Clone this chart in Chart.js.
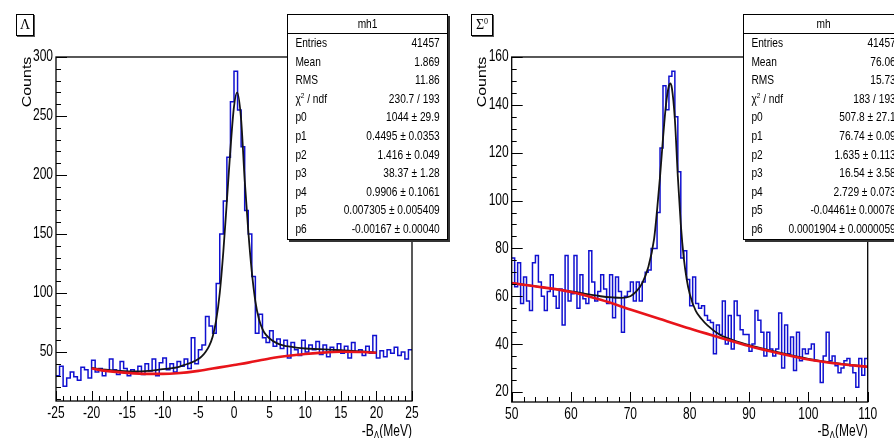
<!DOCTYPE html>
<html>
<head>
<meta charset="utf-8">
<script src="https://cdn.jsdelivr.net/npm/chart.js@4.4.1/dist/chart.umd.min.js"></script>
<style>
  html, body { margin: 0; padding: 0; background: #fff; }
  body { width: 894px; height: 438px; overflow: hidden; position: relative;
         font-family: "Liberation Sans", Arial, sans-serif; }
  .panel { position: absolute; top: 0; width: 447px; height: 438px; }
  .stats { position: absolute; top: 14px; width: 161px; height: 226px; box-sizing: border-box;
           border: 1px solid #000; background: #fff; box-shadow: 2px 2px 0 #333; z-index: 5;
           font-size: 12.4px; color: #000; }
  /* condensed look: render wide, squeeze horizontally */
  .stats .inner { width: 194px; transform: scaleX(0.82); transform-origin: 0 0; }
  .stats .head { height: 18px; border-bottom: 1px solid #000; text-align: center; line-height: 18px; }
  .stats .row { height: 18.6px; line-height: 18.6px; display: flex; justify-content: space-between;
                padding: 0 9px; white-space: nowrap; }
  .stats sup, .tag sup { font-size: 8px; line-height: 0; vertical-align: 5px; }
  .tag { position: absolute; top: 14px; height: 22px; box-sizing: border-box; border: 1px solid #000;
         background: #fff; font-family: "Liberation Serif", "DejaVu Serif", serif; font-size: 14px;
         line-height: 20px; text-align: center; box-shadow: 1px 1px 0 #555; z-index: 5; }
</style>
</head>
<body>
<div class="panel" style="left:0"><canvas id="lambda" width="447" height="438"></canvas></div>
<div class="panel" style="left:447px"><canvas id="sigma" width="447" height="438"></canvas></div>
<div class="tag" style="left:16px;width:18px">Λ</div>
<div class="tag" style="left:471px;width:22px">Σ<sup>0</sup></div>
<div class="stats" id="statsLambda" style="left:287px"></div>
<div class="stats" id="statsSigma" style="left:743px"></div>

<script>
// ---- data ----
const lambdaLow = -25, lambdaWidth = 0.5;   // 100 bins, -25 .. 25 MeV
const lambdaCounts = [
  30, 38, 21, 28, 33, 29, 26, 37, 35, 28,
  43, 33, 36, 30, 34, 44, 35, 31, 42, 36,
  30, 35, 33, 38, 31, 40, 34, 44, 30, 41,
  45, 35, 40, 33, 42, 38, 44, 36, 62, 40,
  52, 56, 80, 72, 66, 108, 150, 178, 215, 262,
  288, 255, 224, 170, 150, 114, 66, 82, 62, 58,
  68, 55, 61, 53, 60, 45, 58, 52, 47, 60,
  50, 56, 52, 59, 48, 56, 46, 54, 50, 57,
  49, 55, 45, 58, 50, 52, 47, 55, 49, 64,
  45, 51, 46, 52, 49, 54, 47, 50, 44, 52
];
const lambdaFitX = [-20, -18, -16, -14, -12, -10, -9, -8, -7, -6,
  -5, -4.5, -4, -3.5, -3, -2.5, -2, -1.5, -1, -0.5,
  0, 0.45, 1, 1.5, 2, 2.5, 3, 3.5, 4, 4.5,
  5, 6, 7, 8, 9, 10, 12, 15, 18, 20];
const lambdaFitY = [36.5, 35, 34, 33.5, 34, 35.5, 36.2, 37, 39, 41,
  44, 46.5, 50, 55, 63, 77, 100, 135, 178, 222,
  258, 270, 247, 196, 153, 118, 93, 78, 69.5, 64.5,
  61.5, 57.5, 55.5, 54.5, 53.5, 53, 52.5, 51.5, 50.5, 49.5];
const lambdaBgX = [-20, -18, -15, -12, -10, -8, -5, -2, 0, 2, 5, 8, 10, 12, 15, 18, 20];
const lambdaBgY = [36, 34, 32.3, 31.5, 31.5, 32, 34, 37, 39, 41, 44.5, 47, 48.3, 49.3, 50.2, 50, 49.4];
const lambdaXTicks = [-25, -20, -15, -10, -5, 0, 5, 10, 15, 20, 25];
const lambdaYTicks = [50, 100, 150, 200, 250, 300];

const sigmaLow = 50, sigmaWidth = 0.5;      // 120 bins, 50 .. 110 MeV
const sigmaCounts = [
  76, 64, 74, 57, 68, 58, 54, 74, 77, 66,
  60, 54, 62, 69, 60, 55, 63, 48, 77, 58,
  61, 77, 55, 69, 59, 57, 79, 66, 58, 62,
  69, 63, 57, 69, 51, 68, 62, 45, 60, 62,
  66, 58, 66, 58, 66, 70, 71, 80, 80, 95,
  122, 148, 138, 152, 154, 135, 112, 76, 79, 67,
  56, 68, 57, 55, 56, 52, 50, 49, 36, 48,
  44, 58, 40, 52, 38, 58, 52, 46, 44, 44,
  37, 40, 54, 50, 45, 35, 45, 38, 35, 38,
  53, 30, 48, 36, 43, 29, 45, 33, 38, 36,
  38, 40, 33, 33, 24, 35, 45, 33, 35, 31,
  28, 30, 33, 34, 31, 28, 22, 34, 27, 34
];
const sigmaFitX = [50, 55, 60, 65, 67, 68.5, 70, 71, 72, 73,
  74, 74.5, 75, 75.5, 76, 76.5, 76.74, 77, 77.5, 78,
  78.5, 79, 79.5, 80, 81, 82, 83, 85, 87.5, 90,
  95, 100, 105, 110];
const sigmaFitY = [65.5, 63.8, 62, 60, 59.5, 59.3, 60, 62, 65.5, 72,
  84, 96, 110, 126, 140, 148, 149, 147, 134, 110,
  90, 76, 67, 61, 54, 50.5, 47.8, 44, 41.5, 39.6,
  36.5, 33.8, 31.9, 30.5];
const sigmaBgX = [50, 55, 60, 65, 70, 75, 80, 85, 90, 95, 100, 105, 110];
const sigmaBgY = [65.5, 63.8, 61.8, 58.5, 54.5, 50.5, 46.5, 42.8, 39.2, 36.2, 33.6, 31.8, 30.5];
const sigmaXTicks = [50, 60, 70, 80, 90, 100, 110];
const sigmaYTicks = [20, 40, 60, 80, 100, 120, 140, 160];

const statLabels = ['Entries', 'Mean', 'RMS', 'χ<sup>2</sup> / ndf', 'p0', 'p1', 'p2', 'p3', 'p4', 'p5', 'p6'];
const lambdaStats = ['41457', '1.869', '11.86', '230.7 / 193', '1044 ± 29.9', '0.4495 ± 0.0353',
  '1.416 ± 0.049', '38.37 ± 1.28', '0.9906 ± 0.1061', '0.007305 ± 0.005409', '-0.00167 ± 0.00040'];
const sigmaStats = ['41457', '76.06', '15.73', '183 / 193', '507.8 ± 27.1', '76.74 ± 0.09',
  '1.635 ± 0.113', '16.54 ± 3.58', '2.729 ± 0.073', '-0.04461± 0.00078', '0.0001904 ± 0.0000059'];

// ---- helpers ----
const FONT = '"Liberation Sans", Arial, sans-serif';
const SQUEEZE = 0.75;   // axis text here is tall and narrow

function histPoints(low, width, counts) {
  const pts = counts.map((c, i) => ({ x: low + i * width, y: c }));
  pts.push({ x: low + counts.length * width, y: counts[counts.length - 1] });
  return pts;
}
function curvePoints(xs, ys) {
  return xs.map((x, i) => ({ x: x, y: ys[i] }));
}

// ROOT look: inward ticks, frame, narrow tick labels, axis titles
const rootStyle = {
  id: 'rootStyle',
  afterDatasetsDraw(chart, args, o) {
    const { ctx, chartArea: a, scales } = chart;
    ctx.save();
    ctx.strokeStyle = '#000';
    ctx.lineWidth = 1;
    const tick = (scale, step, len) => {
      for (let k = Math.ceil(scale.min / step - 1e-6); k * step <= scale.max + 1e-6; k++) {
        const p = Math.round(scale.getPixelForValue(k * step)) + 0.5;
        ctx.beginPath();
        if (scale.axis === 'x') { ctx.moveTo(p, a.bottom); ctx.lineTo(p, a.bottom - len); }
        else { ctx.moveTo(a.left, p); ctx.lineTo(a.left + len, p); }
        ctx.stroke();
      }
    };
    tick(scales.x, o.xMinor, 5); tick(scales.x, o.xMajor, 10);
    tick(scales.y, o.yMinor, 5); tick(scales.y, o.yMajor, 11);
    ctx.lineWidth = 1.3;
    ctx.strokeRect(a.left, a.top, a.right - a.left, a.bottom - a.top);

    ctx.fillStyle = '#000';
    ctx.font = '16px ' + FONT;
    ctx.textBaseline = 'middle';
    // tick labels from the scales' own ticks
    const labels = (scale) => {
      scale.ticks.forEach(t => {
        const p = scale.getPixelForValue(t.value);
        ctx.save();
        if (scale.axis === 'x') { ctx.translate(p, a.bottom + 12.5); ctx.textAlign = 'center'; }
        else { ctx.translate(a.left - 3, p); ctx.textAlign = 'right'; }
        ctx.scale(SQUEEZE, 1);
        ctx.fillText(t.label != null ? t.label : String(t.value), 0, 0);
        ctx.restore();
      });
    };
    labels(scales.x);
    labels(scales.y);

    // y title
    ctx.save();
    ctx.translate(a.left - 29, a.top + 25);
    ctx.rotate(-Math.PI / 2);
    ctx.scale(1.0, 0.8);
    ctx.textAlign = 'center';
    ctx.fillText('Counts', 0, 0);
    ctx.restore();

    // x title: -B_Λ(MeV), right aligned at the axis end
    ctx.textBaseline = 'alphabetic';
    ctx.textAlign = 'left';
    const big = '16px ' + FONT, small = '11px ' + FONT;
    ctx.font = big;
    const w1 = ctx.measureText('-B').width, w3 = ctx.measureText('(MeV)').width;
    ctx.font = small;
    const w2 = ctx.measureText('Λ').width;
    ctx.save();
    ctx.translate(a.right - (w1 + w2 + w3) * SQUEEZE, 436);
    ctx.scale(SQUEEZE, 1);
    ctx.font = big; ctx.fillText('-B', 0, 0);
    ctx.font = small; ctx.fillText('Λ', w1, 3);
    ctx.font = big; ctx.fillText('(MeV)', w1 + w2, 0);
    ctx.restore();
    ctx.restore();
  }
};

function makeChart(id, cfg) {
  return new Chart(document.getElementById(id), {
    type: 'line',
    data: {
      datasets: [
        {
          data: curvePoints(cfg.bgX, cfg.bgY),
          borderColor: '#e8141a', borderWidth: 2.6,
          pointRadius: 0, cubicInterpolationMode: 'monotone', order: 0
        },
        {
          data: curvePoints(cfg.fitX, cfg.fitY),
          borderColor: '#141414', borderWidth: 1.8,
          pointRadius: 0, cubicInterpolationMode: 'monotone', order: 1
        },
        {
          data: histPoints(cfg.low, cfg.width, cfg.counts),
          borderColor: '#1010d0', borderWidth: 1.5,
          pointRadius: 0, stepped: 'before', borderJoinStyle: 'miter', order: 2
        }
      ]
    },
    options: {
      responsive: false,
      animation: false,
      events: [],
      layout: { padding: { top: 57, right: cfg.padRight, left: 0, bottom: 0 } },
      scales: {
        x: {
          type: 'linear', min: cfg.xMin, max: cfg.xMax,
          grid: { display: false, drawTicks: false },
          border: { display: false },
          afterBuildTicks: (s) => { s.ticks = cfg.xTicks.map(v => ({ value: v })); },
          afterFit: (s) => { s.height = cfg.xHeight; },
          ticks: { display: false }
        },
        y: {
          type: 'linear', min: cfg.yMin, max: cfg.yMax,
          grid: { display: false, drawTicks: false },
          border: { display: false },
          afterBuildTicks: (s) => { s.ticks = cfg.yTicks.map(v => ({ value: v })); },
          afterFit: (s) => { s.width = cfg.yWidth; },
          ticks: { display: false }
        }
      },
      plugins: {
        legend: { display: false },
        tooltip: { enabled: false },
        rootStyle: cfg.style
      }
    },
    plugins: [rootStyle]
  });
}

makeChart('lambda', {
  low: lambdaLow, width: lambdaWidth, counts: lambdaCounts,
  fitX: lambdaFitX, fitY: lambdaFitY, bgX: lambdaBgX, bgY: lambdaBgY,
  xMin: -25, xMax: 25, yMin: 8.5, yMax: 300,
  xTicks: lambdaXTicks, yTicks: lambdaYTicks,
  yWidth: 56, xHeight: 37, padRight: 35,
  style: { xMinor: 1, xMajor: 5, yMinor: 10, yMajor: 50 }
});

makeChart('sigma', {
  low: sigmaLow, width: sigmaWidth, counts: sigmaCounts,
  fitX: sigmaFitX, fitY: sigmaFitY, bgX: sigmaBgX, bgY: sigmaBgY,
  xMin: 50, xMax: 110, yMin: 15.8, yMax: 160,
  xTicks: sigmaXTicks, yTicks: sigmaYTicks,
  yWidth: 64.7, xHeight: 36, padRight: 26.3,
  style: { xMinor: 2, xMajor: 10, yMinor: 5, yMajor: 20 }
});

// stat boxes
function buildStats(id, title, values) {
  let html = '<div class="inner"><div class="head">' + title + '</div>';
  statLabels.forEach((lab, i) => {
    html += '<div class="row"><span>' + lab + '</span><span>' + values[i] + '</span></div>';
  });
  document.getElementById(id).innerHTML = html + '</div>';
}
buildStats('statsLambda', 'mh1', lambdaStats);
buildStats('statsSigma', 'mh', sigmaStats);
</script>
</body>
</html>
